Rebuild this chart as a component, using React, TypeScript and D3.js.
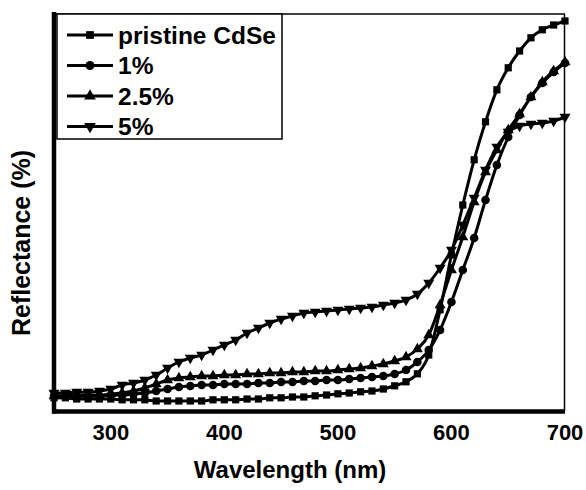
import React from "react";
import * as d3 from "d3";

const wavelengths = d3.range(250, 701, 10);

const pristine = [3.8,3.8,3.5,3.5,3.5,3.5,3.3,3.3,3.3,3.0,3.0,3.0,3.0,3.0,3.3,3.3,3.3,3.5,3.5,3.8,3.8,4.0,4.0,4.3,4.5,4.8,5.0,5.3,5.5,6.0,6.8,7.8,9.8,14.5,25.8,39.5,52,63.3,72.8,80.8,86.3,90.5,93.8,95.8,97,98];
const pct1 = [4.25,4.25,4.25,4.25,4.25,4.5,4.5,4.75,5,5.5,6,6.5,6.75,7,7,7.25,7.25,7.25,7.5,7.5,7.75,7.75,8,8,8.25,8.25,8.5,8.75,9,9.25,9.75,10.75,12.75,15.75,20.75,27.75,35.75,43.75,53.25,62,69,74.5,79,82.5,85.25,87.5];
const pct25 = [4.25,4.25,4.5,4.5,4.5,4.75,5,5.5,6.25,7.25,8.25,8.75,9,9.25,9.25,9.5,9.5,9.75,9.75,10,10,10.25,10.25,10.5,10.5,10.75,11,11.25,11.75,12.25,13,14,16,19.5,27,35.75,44,52.75,60.25,65.75,70.75,74.75,79,82.75,85.5,87.75];
const pct5 = [5,5,5.25,5.25,5.5,6,7,7.5,8.25,9.5,11.25,12.75,13.75,14.5,15.75,17,18.25,20,21.25,22.5,23.5,24.25,25,25.25,25.5,25.75,26,26.25,26.5,27,27.5,28.25,29.75,32.5,36.25,40.75,47,53.75,60.75,66.5,70.25,71.75,72.25,72.5,73,74];

const seriesNames = ["pristine CdSe", "1%", "2.5%", "5%"];
const seriesValues = [pristine, pct1, pct25, pct5];
const seriesSymbols = [d3.symbolSquare, d3.symbolCircle, d3.symbolTriangle, d3.symbolTriangle];
const xTicks = [300, 400, 500, 600, 700];

const FONT = "'Liberation Sans', Arial, Helvetica, sans-serif";

export default function App() {
  const W = 586, H = 490;
  const left = 54, right = 565, top = 13, bottom = 413;
  const x = d3.scaleLinear().domain([250, 700]).range([left, right]);
  const y = d3.scaleLinear().domain([0, 100]).range([bottom, top]);
  const line = d3.line<number>().x((_, i) => x(wavelengths[i])).y((d) => y(d)).curve(d3.curveMonotoneX);

  const symbolPath = (k: number, size: number) =>
    d3.symbol().type(seriesSymbols[k]).size(size)() as string;
  const rot = (k: number) => (k === 3 ? "rotate(180)" : "");

  return (
    <svg width={W} height={H} style={{ position: "absolute", left: 0, top: 0, background: "#fff" }}>
      {seriesValues.map((vals, k) => (
        <g key={k}>
          <path d={line(vals) as string} fill="none" stroke="#000" strokeWidth={3} />
          {vals.map((v, i) => (
            <path
              key={i}
              d={symbolPath(k, k === 1 ? 58 : 52)}
              transform={`translate(${x(wavelengths[i])},${y(v)}) ${rot(k)}`}
              fill="#000"
            />
          ))}
        </g>
      ))}
      {/* frame */}
      <line x1={left} x2={right} y1={14} y2={14} stroke="#000" strokeWidth={1.5} />
      <line x1={right - 0.5} x2={right - 0.5} y1={14} y2={411} stroke="#000" strokeWidth={1.5} />
      <line x1={left} x2={left} y1={12} y2={413.5} stroke="#000" strokeWidth={4.5} />
      <line x1={left - 2} x2={right} y1={411.5} y2={411.5} stroke="#000" strokeWidth={4.5} />

      {/* legend */}
      <rect x={57} y={14} width={225} height={125} fill="#fff" stroke="#000" strokeWidth={1.5} />
      {seriesNames.map((name, k) => {
        const ly = 35 + k * 30.5;
        return (
          <g key={name}>
            <line x1={67} x2={113} y1={ly} y2={ly} stroke="#000" strokeWidth={3} />
            <path d={symbolPath(k, k === 1 ? 64 : 60)} transform={`translate(90,${ly}) ${rot(k)}`} fill="#000" />
            <text x={118} y={ly + 8.5} fontFamily={FONT} fontWeight="bold" fontSize={24.5} fill="#000">
              {name}
            </text>
          </g>
        );
      })}

      {/* x tick labels */}
      {xTicks.map((t) => (
        <text key={t} x={x(t)} y={440} textAnchor="middle" fontFamily={FONT} fontWeight="bold" fontSize={22} fill="#000">
          {t}
        </text>
      ))}
      <text x={290} y={478} textAnchor="middle" fontFamily={FONT} fontWeight="bold" fontSize={24} fill="#000">
        Wavelength (nm)
      </text>
      <text
        transform={`translate(30,243) rotate(-90)`}
        textAnchor="middle"
        fontFamily={FONT}
        fontWeight="bold"
        fontSize={25}
        fill="#000"
      >
        Reflectance (%)
      </text>
    </svg>
  );
}
